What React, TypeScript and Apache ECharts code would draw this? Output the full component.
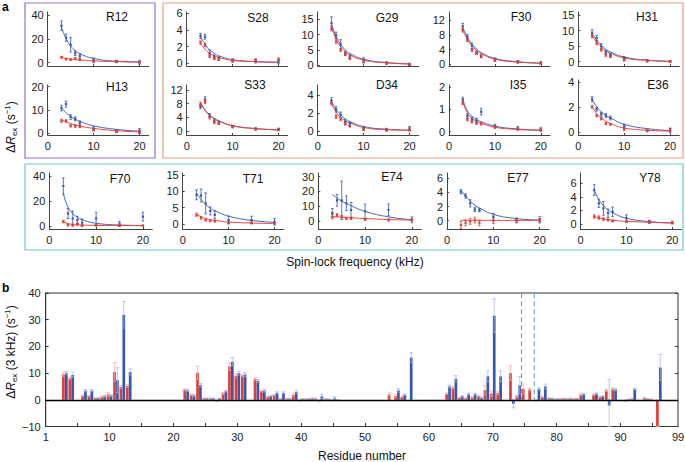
import React, { useEffect, useRef } from 'react';
import * as echarts from 'echarts';

// ---------------- Panel a data ----------------
const FREQ_KHZ = [3, 4, 5, 6, 7, 10, 15, 20];
const PANEL_NAMES = ['R12', 'H13', 'S28', 'G29', 'F30', 'H31', 'S33', 'D34', 'I35', 'E36', 'F70', 'T71', 'E74', 'E77', 'Y78'];
const Y_TICKS = [
  [0, 20, 40], [0, 10, 20], [0, 2, 4, 6], [0, 5, 10, 15], [0, 4, 8, 12], [0, 5, 10, 15],
  [0, 4, 8, 12], [0, 2, 4], [0, 1, 2], [0, 2, 4],
  [0, 20, 40], [0, 5, 10, 15], [0, 10, 20, 30], [0, 2, 4, 6], [0, 2, 4, 6],
];
const X_TICKS_A = [0, 10, 20];

const BLUE_RATES = [
  [31, 21, 15, 8, 5.5, 2, 1, 0.5],
  [10.8, 12.5, 7.0, 6.2, 4.5, 2.1, 1.0, 1.2],
  [3.3, 3.2, 1.2, 0.8, 0.6, 0.35, 0.25, 0.2],
  [13.8, 9.8, 6.8, 3.8, 2.7, 1.6, 0.7, 0.2],
  [10.3, 7.5, 5.0, 3.2, 2.2, 1.3, 0.7, 0.4],
  [9.3, 7.6, 4.9, 3.0, 2.2, 1.1, 0.3, 0.1],
  [7.1, 9.2, 4.5, 3.0, 2.4, 1.3, 0.6, 0.5],
  [3.4, 2.4, 1.8, 1.0, 0.8, 0.3, 0.15, 0.3],
  [1.45, 0.7, 0.55, 0.5, 0.9, 0.25, 0.15, 0.1],
  [2.6, 1.8, 1.4, 1.3, 1.1, 0.45, 0.1, 0.1],
  [32, 10, 6, 4.8, 2.7, 6, 1.6, 7.5],
  [8.9, 8.7, 6.3, 4.0, 2.8, 1.2, 1.2, 0.7],
  [5.5, 14, 14, 12, 7.5, 6.5, 7.5, 0.8],
  [4.1, 3.5, 2.45, 1.6, 1.5, 0.55, 0.1, 0],
  [5.0, 3.05, 2.3, 1.6, 1.8, 0.85, 0.35, 0.2],
];
const BLUE_ERRORS = [
  [4, 3, 6, 2, 2, 2, 1, 1.5],
  [1.2, 1.3, 1, 0.8, 0.8, 0.7, 0.5, 0.8],
  [0.3, 0.3, 0.4, 0.2, 0.2, 0.2, 0.2, 0.2],
  [2, 1, 1.5, 0.6, 0.6, 0.9, 0.4, 0.4],
  [0.8, 0.6, 0.8, 0.4, 0.4, 0.4, 0.3, 0.3],
  [1, 0.8, 0.9, 0.6, 0.5, 0.5, 0.3, 0.3],
  [0.6, 0.8, 0.6, 0.5, 0.4, 0.4, 0.3, 0.3],
  [0.3, 0.3, 0.3, 0.25, 0.2, 0.2, 0.15, 0.2],
  [0.1, 0.1, 0.1, 0.1, 0.15, 0.08, 0.08, 0.08],
  [0.2, 0.15, 0.15, 0.15, 0.15, 0.15, 0.1, 0.15],
  [6.5, 4, 6, 3, 3, 5, 2, 3.5],
  [1.5, 2, 3.2, 1.2, 1.2, 1.2, 1.2, 1],
  [3, 4, 13, 5, 5, 5, 4, 2],
  [0.3, 0.3, 0.5, 0.3, 0.2, 0.5, 0.3, 0.3],
  [0.8, 0.6, 1.0, 0.6, 0.7, 0.5, 0.2, 0.2],
];
const RED_RATES = [
  [4.5, 3, 2.5, 3.5, 2.5, 1.5, 0.8, 0.5],
  [5.3, 5.3, 3.2, 3.1, 2.9, 1.4, 0.7, 0.3],
  [2.5, 2.2, 1.0, 0.6, 0.5, 0.3, 0.4, 0.5],
  [12, 7.7, 4.9, 3.5, 2.2, 1.1, 0.5, 0.2],
  [9.3, 6.6, 3.9, 3.0, 2.1, 1.1, 0.6, 0.3],
  [8.2, 5.9, 3.8, 2.1, 1.6, 0.5, 0.2, 0.0],
  [7.8, 8.6, 4.0, 2.6, 2.2, 1.3, 0.6, 0.5],
  [3.1, 1.6, 1.3, 0.8, 0.55, 0.2, 0.1, 0.1],
  [1.3, 0.55, 0.45, 0.38, 0.35, 0.2, 0.12, 0.08],
  [2.0, 1.3, 1.05, 0.65, 0.6, 0.2, 0.1, 0.2],
  [3.5, 0.8, 0.8, 1.6, 0.8, 0.5, 0.5, 0.3],
  [2.8, 1.9, 1.2, 1.0, 0.9, 0.4, 0.4, 0.2],
  [2.9, 4, 2.9, 1.8, 1.8, 1.1, 0.7, 0.7],
  [-0.6, -0.3, -0.1, 0.1, -0.3, 0, 0, 0.2],
  [1.1, 0.95, 0.7, 0.6, 0.45, 0.35, 0.25, 0.2],
];
const RED_ERRORS = [
  [0.8, 0.6, 0.6, 0.8, 0.6, 0.6, 0.5, 0.5],
  [0.6, 0.5, 0.5, 0.5, 0.5, 0.4, 0.4, 0.4],
  [0.2, 0.2, 0.3, 0.15, 0.15, 0.15, 0.15, 0.15],
  [0.8, 0.6, 0.5, 0.4, 0.4, 0.4, 0.3, 0.3],
  [0.5, 0.4, 0.4, 0.3, 0.3, 0.3, 0.3, 0.3],
  [0.5, 0.5, 0.4, 0.4, 0.3, 0.3, 0.3, 0.3],
  [0.6, 0.6, 0.5, 0.4, 0.3, 0.3, 0.3, 0.3],
  [0.2, 0.2, 0.15, 0.15, 0.1, 0.1, 0.1, 0.1],
  [0.08, 0.06, 0.06, 0.05, 0.05, 0.05, 0.05, 0.05],
  [0.12, 0.1, 0.1, 0.08, 0.08, 0.1, 0.08, 0.1],
  [1, 0.8, 0.8, 0.8, 0.6, 0.5, 0.5, 0.5],
  [0.5, 0.4, 0.3, 0.3, 0.3, 0.2, 0.2, 0.2],
  [1.5, 1, 0.8, 0.8, 0.8, 0.8, 0.8, 0.8],
  [0.5, 0.4, 0.4, 0.4, 0.4, 0.4, 0.3, 0.4],
  [0.25, 0.25, 0.2, 0.15, 0.15, 0.15, 0.15, 0.15],
];
const BLUE_FITS = [
  [30, 20, 14, 10, 7.5, 3.5, 1.2, 0.5],
  [11, 8.8, 7.2, 6, 5.1, 3.2, 1.7, 0.9],
  [3.2, 2.3, 1.6, 1.2, 0.9, 0.45, 0.2, 0.1],
  [13.5, 9.5, 6.8, 5, 3.8, 1.9, 0.8, 0.4],
  [10, 7.4, 5.5, 4.2, 3.2, 1.6, 0.7, 0.3],
  [9, 7, 5.3, 4, 3.1, 1.5, 0.5, 0.1],
  [8.3, 6.2, 4.7, 3.7, 3, 1.6, 0.7, 0.3],
  [3.3, 2.4, 1.8, 1.35, 1.05, 0.5, 0.2, 0.1],
  [1.45, 0.95, 0.7, 0.55, 0.45, 0.25, 0.12, 0.07],
  [2.6, 2.0, 1.6, 1.3, 1.1, 0.6, 0.25, 0.1],
  [26, 15, 10, 7, 5, 2.2, 0.8, 0.4],
  [9.5, 7.5, 6, 4.9, 4.1, 2.4, 1.1, 0.5],
  [18, 15.5, 13.5, 11.8, 10.3, 6.5, 2.8, 0.9],
  [4.3, 3.5, 2.8, 2.2, 1.8, 0.9, 0.3, 0.1],
  [5, 3.6, 2.7, 2.1, 1.65, 0.85, 0.35, 0.15],
];
const RED_FITS = [
  [4.5, 3.6, 3, 2.6, 2.3, 1.5, 0.9, 0.6],
  [5.8, 4.9, 4.2, 3.6, 3.1, 2.1, 1.1, 0.6],
  [2.4, 1.7, 1.2, 0.9, 0.7, 0.35, 0.2, 0.15],
  [12.5, 8.5, 6, 4.4, 3.3, 1.6, 0.7, 0.3],
  [9.3, 6.8, 5, 3.8, 2.9, 1.4, 0.6, 0.3],
  [8.3, 6.3, 4.7, 3.5, 2.7, 1.2, 0.4, 0.1],
  [8, 6, 4.6, 3.6, 2.9, 1.5, 0.7, 0.35],
  [3, 2.1, 1.5, 1.15, 0.9, 0.4, 0.15, 0.08],
  [1.35, 0.85, 0.6, 0.47, 0.38, 0.2, 0.1, 0.06],
  [2, 1.45, 1.1, 0.85, 0.65, 0.3, 0.12, 0.05],
  [3.5, 2, 1.2, 0.9, 0.7, 0.5, 0.4, 0.3],
  [3, 2.2, 1.7, 1.35, 1.1, 0.6, 0.3, 0.15],
  [3, 2.8, 2.6, 2.4, 2.2, 1.7, 1.0, 0.6],
  [0.05, 0.05, 0.05, 0.05, 0.05, 0.05, 0.05, 0.05],
  [1.1, 0.9, 0.75, 0.65, 0.55, 0.4, 0.25, 0.15],
];

// ---------------- Panel b data ----------------
const B_RESIDUES = [3, 4, 6, 7, 8, 9, 10, 11, 12, 13, 22, 23, 24, 25, 26, 27, 28, 29, 30, 31, 33, 34, 35, 36, 37, 38, 39, 40, 41, 42,
  43, 44, 45, 46, 54, 55, 56, 57, 63, 64, 65, 66, 67, 68, 69, 70, 71, 73, 74, 75, 76, 77, 78, 79, 80, 81, 82, 83, 84, 86, 87, 88, 89,
  91, 92, 94, 95, 96];
const B_RED = [9.5, 8, 1.5, 1.4, 0.6, 1.1, 2.0, 10.4, 4.8, 5.2,
  3.8, 1.9, 10.1, 0.5, 0.5, -0.5, 2.4, 12.5, 9.0, 9.1,
  7.8, 3.3, 1.1, 1.8, 0.4, 0.4, 1.8, -0.4, 0.3, 0.6,
  -0.5, 0.3, -0.2, -0.1,
  2.0, 1.4, 1.1, null,
  2.3, 4.5, 0.8, 0.6, 0.9, 1.5, 3.6, 2.3, 2.5,
  10.0, 1.3, 4.1, 3.9, -0.4, 1.1,
  0.6, 0.3, 0.4, 0.4, 0.4, 1.9,
  1.9, 1.1, 3.5, 4.1,
  -0.5, 0.4, 0.75, 0.2, -14];
const B_RED_ERR = [0.8, 0.5, 0.3, 0.3, 0.2, 0.3, 0.7, 3.5, 0.5, 0.6,
  0.3, 0.3, 2.5, 0.2, 0.2, 0.2, 0.4, 1.4, 0.6, 0.5,
  0.5, 0.3, 0.2, 0.3, 0.2, 0.2, 0.5, 0.3, 0.2, 0.2,
  0.3, 0.2, 0.2, 0.2,
  0.6, 0.5, 0.3, null,
  0.3, 0.5, 0.2, 0.2, 0.3, 0.3, 1.8, 1.0, 0.5,
  2.7, 0.4, 1.9, 0.5, 0.2, 0.3,
  0.2, 0.2, 0.2, 0.2, 0.2, 0.3,
  0.3, 0.2, 0.4, 0.4,
  0.2, 0.2, 0.2, 0.2, 0.5];
const B_BLUE = [10, 9.3, 3.4, 3.4, 0.6, 1.3, 1.6, 7.3, 31.8, 10.4,
  3.5, 1.6, 5.5, 0.5, 0.5, 0.5, 3.2, 14.2, 10.0, 9.4,
  7.1, 3.4, 1.4, 2.6, 2.6, 0.4, 2.9, 0.3, 0.3, 0.4,
  1.3, 0.2, 0.6, null,
  null, 3.5, 1.9, 15.8,
  5.0, 7.9, 1.3, 2.1, 2.1, 0.8, 8.8, 31.5, 8.8,
  -1.5, 5.4, null, null, 4.1, 5.0,
  0.5, 0.3, 0.4, 0.4, 0.4, 2.1,
  2.3, 1.3, -2.1, 3.8,
  0.1, 4.0, 0.25, null, 12.1];
const B_BLUE_ERR = [0.6, 0.8, 0.4, 0.4, 0.2, 0.3, 0.3, 4.7, 5.0, 1.2,
  0.4, 0.3, 0.6, 0.2, 0.2, 0.2, 0.3, 1.6, 0.7, 0.8,
  0.5, 0.5, 0.3, 0.4, 0.4, 0.2, 0.5, 0.2, 0.2, 0.2,
  0.8, 0.2, 0.5, null,
  null, 0.7, 0.3, 1.8,
  0.5, 1.1, 0.3, 0.4, 0.3, 0.2, 2.0, 6.3, 2.0,
  1.5, 3.3, null, null, 0.4, 0.9,
  0.2, 0.2, 0.2, 0.2, 0.2, 0.3,
  0.3, 0.2, 9.7, 0.4,
  0.2, 0.3, 0.2, null, 4.9];
const DASHED_RESIDUES = [74.5, 76.5];
const B_X_LABELS = [0, 10, 20, 30, 40, 50, 60, 70, 80, 90, 99];
const B_X_TICKS = [5, 10, 15, 20, 25, 30, 35, 40, 45, 50, 55, 60, 65, 70, 75, 80, 85, 90, 95];

// ---------------- Layout & style ----------------
const FONT = 'Liberation Sans, Arial, Helvetica, sans-serif';
const BLUE = '#3557ad';
const RED = '#e23d35';
const BLUE_LINE = '#4466bb';
const RED_LINE = '#e8453d';
const BLUE_ERRC = '#9fb1dc';
const RED_ERRC = '#f4aaa5';
const DASH_C = '#6f9fd8';
const AXIS_C = '#444';
// [left, top, width, height, yMin, yMax, showXLabels]
const SUB_LAYOUT: [number, number, number, number, number, number, boolean][] = [
  [47.7, 12, 101, 54, -2.8, 42.5, false],
  [47.7, 85, 101, 50, -0.73, 20.7, true],
  [186.7, 12, 101, 54, -0.32, 6.16, false],
  [317.7, 12, 101, 54, -0.33, 17.4, false],
  [449, 12, 101, 54, -0.46, 14.2, false],
  [578.3, 12, 101, 54, -1.4, 16, false],
  [186.7, 85, 101, 50, -1.17, 13.45, true],
  [317.7, 85, 101, 50, -0.44, 5.1, true],
  [449, 85, 101, 50, -0.15, 2.1, true],
  [578.3, 80, 101, 55, -0.26, 4.14, true],
  [49.3, 173, 103, 56, -2.4, 42.4, true],
  [182.7, 173, 101, 56, -1.53, 15.6, true],
  [318.3, 173, 103, 56, -5.4, 32.5, true],
  [447, 173, 102, 56, -1.17, 6.75, true],
  [580.5, 173, 101, 56, -0.74, 7.52, true],
];
const TITLE_POS: [number, number][] = [
  [117, 17], [117, 87], [258, 18], [387, 18], [521, 17], [647, 17],
  [255, 85], [387, 85], [518, 85], [658, 85],
  [120, 179], [253, 179], [392, 177], [518, 178], [650, 178],
];
const B_Y_MIN = -10;
const B_Y_MAX = 40;

function pointRender(color: string) {
  return (_p: any, api: any) => {
    const x = api.value(0);
    const y = api.value(1);
    const e = api.value(2);
    const c = api.coord([x, y]);
    const t = api.coord([x, y + e]);
    const b = api.coord([x, y - e]);
    const st = { stroke: color, lineWidth: 0.8 };
    return {
      type: 'group',
      children: [
        { type: 'line', shape: { x1: c[0], y1: t[1], x2: c[0], y2: b[1] }, style: st },
        { type: 'line', shape: { x1: c[0] - 1.3, y1: t[1], x2: c[0] + 1.3, y2: t[1] }, style: st },
        { type: 'line', shape: { x1: c[0] - 1.3, y1: b[1], x2: c[0] + 1.3, y2: b[1] }, style: st },
        { type: 'rect', shape: { x: c[0] - 1.1, y: c[1] - 1.1, width: 2.2, height: 2.2 }, style: { fill: color } },
      ],
    };
  };
}

function barRender(color: string, errColor: string, offset: number) {
  return (_p: any, api: any) => {
    const r = api.value(0);
    const v = api.value(1);
    const e = api.value(2);
    const clamp = (q: number) => Math.max(B_Y_MIN, Math.min(B_Y_MAX, q));
    const base = api.coord([r, 0]);
    const top = api.coord([r, clamp(v)]);
    const hi = api.coord([r, clamp(v + e)]);
    const lo = api.coord([r, clamp(v - e)]);
    const cx = base[0] + offset;
    const w = 2.7;
    const y0 = Math.min(base[1], top[1]);
    const h = Math.abs(base[1] - top[1]);
    const st = { stroke: errColor, lineWidth: 0.7 };
    return {
      type: 'group',
      children: [
        { type: 'rect', shape: { x: cx - w / 2, y: y0, width: w, height: Math.max(h, 0.6) }, style: { fill: color } },
        { type: 'line', shape: { x1: cx, y1: hi[1], x2: cx, y2: lo[1] }, style: st },
        { type: 'line', shape: { x1: cx - 2, y1: hi[1], x2: cx + 2, y2: hi[1] }, style: st },
        { type: 'line', shape: { x1: cx - 2, y1: lo[1], x2: cx + 2, y2: lo[1] }, style: st },
      ],
    };
  };
}

function dashRender(_p: any, api: any) {
  const v = api.value(0);
  const t = api.coord([v, B_Y_MAX]);
  const b = api.coord([v, 0]);
  return {
    type: 'line',
    shape: { x1: t[0], y1: t[1], x2: b[0], y2: b[1] },
    style: { stroke: DASH_C, lineWidth: 1.1, lineDash: [5, 3] },
  };
}

function buildOption() {
  const grids: any[] = [];
  const xAxes: any[] = [];
  const yAxes: any[] = [];
  const series: any[] = [];
  const graphics: any[] = [];

  PANEL_NAMES.forEach((name, i) => {
    const [left, top, width, height, yMin, yMax, showX] = SUB_LAYOUT[i];
    grids.push({ left, top, width, height, containLabel: false, outerBoundsMode: 'none' });
    xAxes.push({
      type: 'value', gridIndex: i, min: 0, max: 22,
      axisLine: { show: true, onZero: false, lineStyle: { color: AXIS_C, width: 1 } },
      axisTick: { show: true, inside: true, length: 2, customValues: X_TICKS_A, lineStyle: { color: AXIS_C } },
      axisLabel: { show: showX, customValues: X_TICKS_A, fontSize: 11, color: '#222', margin: 5, fontFamily: FONT },
      splitLine: { show: false },
    });
    yAxes.push({
      type: 'value', gridIndex: i, min: yMin, max: yMax,
      axisLine: { show: true, onZero: false, lineStyle: { color: AXIS_C, width: 1 } },
      axisTick: { show: true, inside: true, length: 2, customValues: Y_TICKS[i], lineStyle: { color: AXIS_C } },
      axisLabel: { show: true, customValues: Y_TICKS[i], fontSize: 11, color: '#222', margin: 4, fontFamily: FONT },
      splitLine: { show: false },
    });
    series.push({
      type: 'line', xAxisIndex: i, yAxisIndex: i, smooth: 0.5, showSymbol: false, z: 2,
      lineStyle: { color: BLUE_LINE, width: 1 },
      data: FREQ_KHZ.map((f, j) => [f, BLUE_FITS[i][j]]),
    });
    series.push({
      type: 'line', xAxisIndex: i, yAxisIndex: i, smooth: 0.5, showSymbol: false, z: 2,
      lineStyle: { color: RED_LINE, width: 1 },
      data: FREQ_KHZ.map((f, j) => [f, RED_FITS[i][j]]),
    });
    series.push({
      type: 'custom', xAxisIndex: i, yAxisIndex: i, z: 3,
      renderItem: pointRender(BLUE),
      data: FREQ_KHZ.map((f, j) => [f, BLUE_RATES[i][j], BLUE_ERRORS[i][j]]),
    });
    series.push({
      type: 'custom', xAxisIndex: i, yAxisIndex: i, z: 4,
      renderItem: pointRender(RED),
      data: FREQ_KHZ.map((f, j) => [f, RED_RATES[i][j], RED_ERRORS[i][j]]),
    });
    graphics.push({
      type: 'text', x: TITLE_POS[i][0], y: TITLE_POS[i][1],
      style: { text: name, fontSize: 12, fontFamily: FONT, fill: '#111', align: 'center', verticalAlign: 'middle' },
    });
  });

  // Panel b
  const bi = PANEL_NAMES.length;
  grids.push({ left: 45.7, top: 293, width: 632.3, height: 133.5, show: true, borderColor: '#333', borderWidth: 1, containLabel: false, outerBoundsMode: 'none' });
  xAxes.push({
    type: 'value', gridIndex: bi, min: 0, max: 99,
    axisLine: { show: true, onZero: false, lineStyle: { color: '#333', width: 1 } },
    axisTick: { show: true, inside: true, length: 3.5, customValues: B_X_TICKS, lineStyle: { color: '#333' } },
    axisLabel: {
      show: true, customValues: B_X_LABELS, fontSize: 11, color: '#222', margin: 5, fontFamily: FONT,
      formatter: (v: number) => (v === 0 ? '1' : String(v)),
    },
    splitLine: { show: false },
  });
  yAxes.push({
    type: 'value', gridIndex: bi, min: B_Y_MIN, max: B_Y_MAX, interval: 10,
    axisLine: { show: true, onZero: false, lineStyle: { color: '#333', width: 1 } },
    axisTick: { show: true, inside: true, length: 3, lineStyle: { color: '#333' } },
    axisLabel: {
      show: true, fontSize: 11, color: '#222', margin: 5, fontFamily: FONT,
      formatter: (v: number) => (v < 0 ? '\u2212' + Math.abs(v) : String(v)),
    },
    splitLine: { show: false },
  });
  yAxes.push({
    type: 'value', gridIndex: bi, min: B_Y_MIN, max: B_Y_MAX, interval: 10, position: 'right',
    axisLine: { show: false, onZero: false },
    axisTick: { show: true, inside: true, length: 3, lineStyle: { color: '#333' } },
    axisLabel: { show: false },
    splitLine: { show: false },
  });
  const redData = B_RESIDUES.map((r, k) => [r, B_RED[k], B_RED_ERR[k]]).filter((d) => d[1] !== null);
  const blueData = B_RESIDUES.map((r, k) => [r, B_BLUE[k], B_BLUE_ERR[k]]).filter((d) => d[1] !== null);
  series.push({
    type: 'custom', xAxisIndex: bi, yAxisIndex: bi, z: 3,
    renderItem: barRender(RED, RED_ERRC, -1.45),
    data: redData,
    markLine: {
      silent: true, symbol: ['none', 'none'], label: { show: false }, animation: false,
      lineStyle: { color: '#000', width: 1.3, type: 'solid' },
      data: [{ yAxis: 0, lineStyle: { color: '#000', width: 1.3, type: 'solid' } }],
    },
  });
  series.push({
    type: 'custom', xAxisIndex: bi, yAxisIndex: bi, z: 4,
    renderItem: barRender(BLUE, BLUE_ERRC, 1.45),
    data: blueData,
  });
  series.push({
    type: 'custom', xAxisIndex: bi, yAxisIndex: bi, z: 5,
    renderItem: dashRender,
    data: DASHED_RESIDUES.map((v) => [v]),
  });

  // Frames & texts
  graphics.push(
    { type: 'rect', shape: { x: 25, y: 3, width: 130, height: 155 }, style: { fill: 'none', stroke: '#9b72c6', lineWidth: 1.2 } },
    { type: 'rect', shape: { x: 163, y: 3, width: 520, height: 155 }, style: { fill: 'none', stroke: '#ec9f82', lineWidth: 1.2 } },
    { type: 'rect', shape: { x: 25, y: 164, width: 658, height: 86 }, style: { fill: 'none', stroke: '#6fc6dc', lineWidth: 1.2 } },
    { type: 'text', x: 2, y: 1, style: { text: 'a', fontSize: 12, fontWeight: 'bold', fontFamily: FONT, fill: '#000' } },
    { type: 'text', x: 2, y: 282, style: { text: 'b', fontSize: 12, fontWeight: 'bold', fontFamily: FONT, fill: '#000' } },
    {
      type: 'text', x: 355, y: 262,
      style: { text: 'Spin-lock frequency (kHz)', fontSize: 12, fontFamily: FONT, fill: '#111', align: 'center', verticalAlign: 'middle' },
    },
    {
      type: 'text', x: 362, y: 456,
      style: { text: 'Residue number', fontSize: 12, fontFamily: FONT, fill: '#111', align: 'center', verticalAlign: 'middle' },
    },
    {
      type: 'text', x: 11, y: 127, rotation: Math.PI / 2,
      style: {
        text: '{n|\u0394}{i|R}{s|ex}{n| (s}{p|\u22121}{n|)}',
        align: 'center', verticalAlign: 'middle', fill: '#111', fontFamily: FONT,
        rich: {
          n: { fontSize: 12, fontFamily: FONT, lineHeight: 15 },
          i: { fontSize: 12, fontFamily: FONT, fontStyle: 'italic', lineHeight: 15 },
          s: { fontSize: 8, fontFamily: FONT, verticalAlign: 'bottom', lineHeight: 9 },
          p: { fontSize: 8, fontFamily: FONT, verticalAlign: 'top', lineHeight: 9 },
        },
      },
    },
    {
      type: 'text', x: 11, y: 352, rotation: Math.PI / 2,
      style: {
        text: '{n|\u0394}{i|R}{s|ex}{n| (3 kHz) (s}{p|\u22121}{n|)}',
        align: 'center', verticalAlign: 'middle', fill: '#111', fontFamily: FONT,
        rich: {
          n: { fontSize: 12, fontFamily: FONT, lineHeight: 15 },
          i: { fontSize: 12, fontFamily: FONT, fontStyle: 'italic', lineHeight: 15 },
          s: { fontSize: 8, fontFamily: FONT, verticalAlign: 'bottom', lineHeight: 9 },
          p: { fontSize: 8, fontFamily: FONT, verticalAlign: 'top', lineHeight: 9 },
        },
      },
    },
  );

  return {
    animation: false,
    backgroundColor: '#ffffff',
    textStyle: { fontFamily: FONT },
    grid: grids,
    xAxis: xAxes,
    yAxis: yAxes,
    series,
    graphic: { elements: graphics },
  };
}

export default function App() {
  const ref = useRef<HTMLDivElement>(null);
  useEffect(() => {
    if (!ref.current) return;
    const chart = echarts.init(ref.current, null, { renderer: 'svg' });
    chart.setOption(buildOption() as any);
    return () => chart.dispose();
  }, []);
  return <div ref={ref} style={{ position: 'fixed', left: 0, top: 0, width: 685, height: 462 }} />;
}
